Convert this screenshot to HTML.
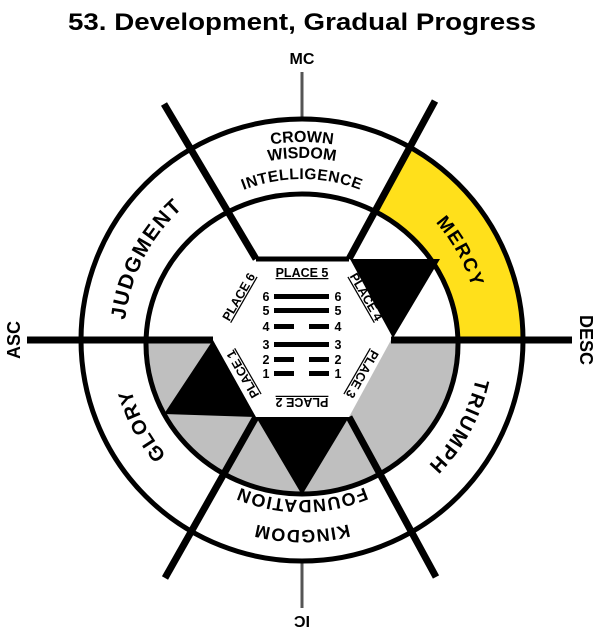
<!DOCTYPE html>
<html><head><meta charset="utf-8"><style>
html,body{margin:0;padding:0;background:#fff;}
svg{display:block;}
text{font-family:"Liberation Sans",Arial,sans-serif;font-weight:bold;fill:#000;}
</style></head><body>
<svg width="600" height="638" viewBox="0 0 600 638" xmlns="http://www.w3.org/2000/svg">
<defs>
<clipPath id="oc"><circle cx="302" cy="340" r="221"/></clipPath>
<path id="c198" d="M302,142 A198,198 0 1 1 302,538 A198,198 0 1 1 302,142"/>
<path id="c182" d="M302,158 A182,182 0 1 1 302,522 A182,182 0 1 1 302,158"/>
<path id="c161" d="M302,179 A161,161 0 1 1 302,501 A161,161 0 1 1 302,179"/>
<path id="c178" d="M302,162 A178,178 0 1 1 302,518 A178,178 0 1 1 302,162"/>
<path id="c190" d="M302,150 A190,190 0 1 1 302,530 A190,190 0 1 1 302,150"/>
<path id="c160" d="M302,180 A160,160 0 1 1 302,500 A160,160 0 1 1 302,180"/>
</defs>

<text x="302" y="30" font-size="24" text-anchor="middle" textLength="468" lengthAdjust="spacingAndGlyphs">53. Development, Gradual Progress</text>
<text x="302" y="64" font-size="16" text-anchor="middle">MC</text>
<text transform="translate(302,622) rotate(180)" font-size="16" text-anchor="middle" dy="6">IC</text>
<text transform="translate(20,340) rotate(-90)" font-size="18" text-anchor="middle">ASC</text>
<text transform="translate(580,340) rotate(90)" font-size="18" text-anchor="middle">DESC</text>

<line x1="302" y1="72" x2="302" y2="120" stroke="#555" stroke-width="3"/>
<line x1="302" y1="560" x2="302" y2="608" stroke="#555" stroke-width="3"/>

<circle cx="302" cy="340" r="221" fill="#fff"/>
<polygon points="391,340 600,340 600,0 489,0 349,259" fill="#FFE01B" clip-path="url(#oc)"/>
<circle cx="302" cy="340" r="221" fill="none" stroke="#000" stroke-width="5"/>

<ellipse cx="302" cy="344" rx="156" ry="150" fill="#fff"/>
<path d="M146,340 L458,340 A156,150 0 0 1 146,344 Z" fill="#bfbfbf"/>
<polygon points="350,259 440,259 393,338" fill="#000"/>
<polygon points="213,340 164,414 256,417" fill="#000"/>
<polygon points="256,417 349,417 302,495" fill="#000"/>
<polygon points="213,340 256,259 349,259 391,340 349,417 256,417" fill="#fff"/>
<line x1="256" y1="259" x2="349" y2="259" stroke="#000" stroke-width="5"/>
<ellipse cx="302" cy="344" rx="156" ry="150" fill="none" stroke="#000" stroke-width="5"/>

<g stroke="#000" stroke-width="7" stroke-linecap="butt">
<line x1="27" y1="340" x2="213" y2="340"/>
<line x1="391" y1="340" x2="572" y2="340"/>
<line x1="256" y1="259" x2="164" y2="104"/>
<line x1="349" y1="259" x2="435" y2="101"/>
<line x1="256" y1="417" x2="165" y2="578"/>
<line x1="349" y1="417" x2="436" y2="577"/>
</g>

<text font-size="16"><textPath href="#c198" startOffset="0%" text-anchor="middle">CROWN</textPath></text>
<text font-size="16"><textPath href="#c198" startOffset="100%" text-anchor="middle">CROWN</textPath></text>
<text font-size="16"><textPath href="#c182" startOffset="100%" text-anchor="middle">WISDOM</textPath></text>
<text font-size="16"><textPath href="#c182" startOffset="0%" text-anchor="middle">WISDOM</textPath></text>
<text font-size="15.5" letter-spacing="0.5"><textPath href="#c161" startOffset="0%" text-anchor="middle">INTELLIGENCE</textPath></text>
<text font-size="15.5" letter-spacing="0.5"><textPath href="#c161" startOffset="100%" text-anchor="middle">INTELLIGENCE</textPath></text>
<text font-size="21" letter-spacing="1.5"><textPath href="#c178" startOffset="82.6%" text-anchor="middle">JUDGMENT</textPath></text>
<text font-size="19" letter-spacing="1.5"><textPath href="#c178" startOffset="16.9%" text-anchor="middle">MERCY</textPath></text>
<text font-size="20" letter-spacing="1.5"><textPath href="#c178" startOffset="33%" text-anchor="middle">TRIUMPH</textPath></text>
<text font-size="20" letter-spacing="1.2"><textPath href="#c178" startOffset="67.2%" text-anchor="middle">GLORY</textPath></text>
<text font-size="18" letter-spacing="1"><textPath href="#c190" startOffset="50%" text-anchor="middle">KINGDOM</textPath></text>
<text font-size="18" letter-spacing="1"><textPath href="#c160" startOffset="50%" text-anchor="middle">FOUNDATION</textPath></text>

<g font-size="12.5">
<text x="302" y="277" text-anchor="middle" text-decoration="underline">PLACE 5</text>
<text transform="translate(239,297) rotate(-60)" text-anchor="middle" dy="4" text-decoration="underline">PLACE 6</text>
<text transform="translate(366,297) rotate(60)" text-anchor="middle" dy="4" text-decoration="underline">PLACE 4</text>
<text transform="translate(243,374) rotate(-120)" text-anchor="middle" dy="4" text-decoration="underline">PLACE 1</text>
<text transform="translate(362,374) rotate(120)" text-anchor="middle" dy="4" text-decoration="underline">PLACE 3</text>
<text transform="translate(302,402) rotate(180)" text-anchor="middle" dy="4" text-decoration="underline">PLACE 2</text>
</g>
<g font-size="12.5" text-anchor="middle">
<text x="266" y="301">6</text><text x="338" y="301">6</text>
<text x="266" y="315">5</text><text x="338" y="315">5</text>
<text x="266" y="331">4</text><text x="338" y="331">4</text>
<text x="266" y="349">3</text><text x="338" y="349">3</text>
<text x="266" y="364">2</text><text x="338" y="364">2</text>
<text x="266" y="378">1</text><text x="338" y="378">1</text>
</g>
<g fill="#000">
<rect x="274" y="294" width="55" height="5"/>
<rect x="274" y="308" width="55" height="5"/>
<rect x="274" y="324" width="20" height="5"/><rect x="309" y="324" width="20" height="5"/>
<rect x="274" y="342" width="55" height="5"/>
<rect x="274" y="357" width="20" height="5"/><rect x="309" y="357" width="20" height="5"/>
<rect x="274" y="371" width="20" height="5"/><rect x="309" y="371" width="20" height="5"/>
</g>
</svg>
</body></html>
